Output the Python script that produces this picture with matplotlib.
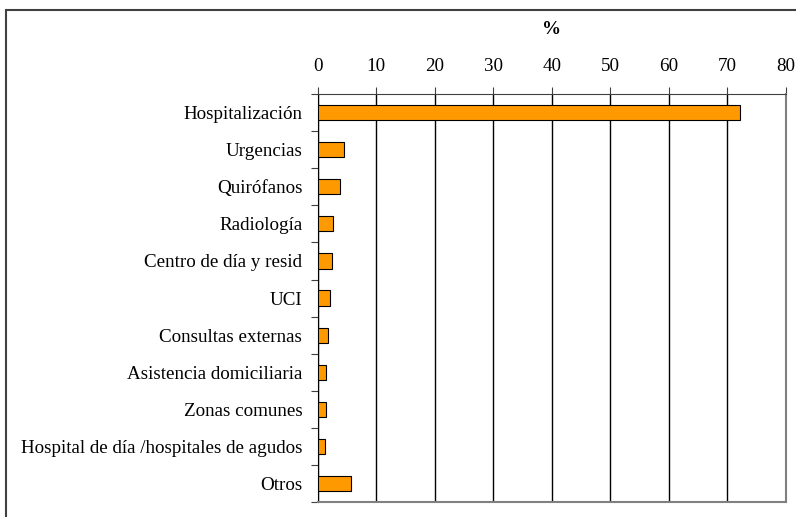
import matplotlib.pyplot as plt
from matplotlib.patches import Rectangle

categorias = ['Hospitalización', 'Urgencias', 'Quirófanos', 'Radiología',
              'Centro de día y resid', 'UCI', 'Consultas externas',
              'Asistencia domiciliaria', 'Zonas comunes',
              'Hospital de día /hospitales de agudos', 'Otros']
porcentajes = [72.2, 4.5, 3.9, 2.6, 2.4, 2.1, 1.7, 1.5, 1.4, 1.2, 5.7]
ticks_x = [0, 10, 20, 30, 40, 50, 60, 70, 80]

plt.rcParams['font.family'] = ['Liberation Serif', 'DejaVu Serif']
plt.rcParams['font.size'] = 13.7

fig = plt.figure(figsize=(7.96, 5.17), dpi=100)
ax = fig.add_axes([0.399, 0.029, 0.588, 0.789])

pos = list(range(len(categorias)))
ax.barh(pos, porcentajes, height=0.41, color='#ff9900', edgecolor='black', lw=0.8, zorder=3)

ax.set_ylim(len(categorias) - 0.5, -0.5)
ax.set_xlim(0, 80)
ax.set_yticks([p + 0.5 for p in pos[:-1]] + [-0.5, len(categorias) - 0.5])
ax.set_yticklabels([])
ax.set_yticks(pos, minor=True)
ax.set_yticklabels(categorias, minor=True)
ax.tick_params(axis='y', which='minor', length=0, pad=11)
ax.tick_params(axis='y', which='major', length=5, color='#404040', direction='out')

ax.xaxis.tick_top()
ax.set_xticks(ticks_x)
ax.tick_params(axis='x', length=5, color='#404040', pad=9)
ax.xaxis.grid(True, color='black', lw=1, zorder=0)
ax.set_xlabel('%', fontweight='bold', labelpad=17)
ax.xaxis.set_label_position('top')

for s in ['right', 'bottom']:
    ax.spines[s].set_color('#808080')
    ax.spines[s].set_linewidth(1.5)
ax.spines['top'].set_color('#404040')
ax.spines['left'].set_color('black')

# marco exterior (recortado a la derecha y abajo)
fig.patches.append(Rectangle((6 / 796, -0.05), 1.1, 1.05 - 10 / 517,
                             transform=fig.transFigure, fill=False,
                             edgecolor='#404040', lw=1.5, clip_on=False))

plt.savefig('out.png', dpi=100)
